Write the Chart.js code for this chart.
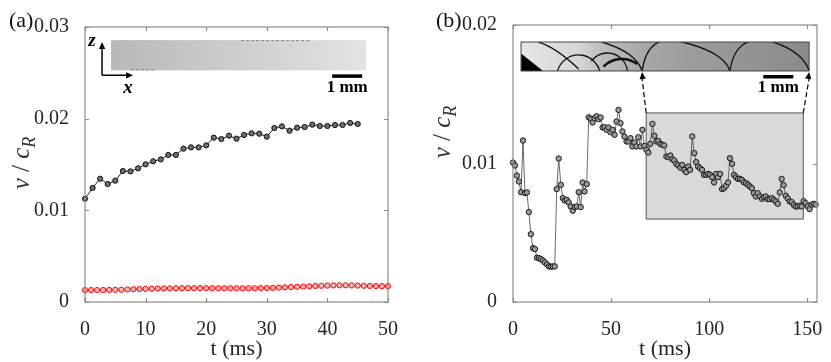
<!DOCTYPE html>
<html lang="en">
<head>
<meta charset="UTF-8">
<title>Crack front velocity</title>
<script src="https://cdn.jsdelivr.net/npm/chart.js"></script>
<style>
  body { margin: 0; background: #fff; font-family: 'Liberation Serif', 'DejaVu Serif', serif; }
  #wrap { position: relative; width: 831px; height: 362px; }
  canvas { position: absolute; top: 0; }
  .warm { position: absolute; left: -999px; top: 0; font-size: 20px; }
</style>
</head>
<body>
<span class="warm">0.01 t (ms) <b>1 mm</b> <i>v c R</i> <b><i>x z</i></b></span>
<div id="wrap">
  <canvas id="chartA" width="420" height="362" style="left:0"></canvas>
  <canvas id="chartB" width="411" height="362" style="left:420px"></canvas>
</div>
<script>
// panel (a): black = fast series, red = slow series
const tA_black = [0,1.25,2.5,3.75,5,6.25,7.5,8.75,10,11.25,12.5,13.75,15,16.25,17.5,18.75,20,21.25,22.5,23.75,25,26.25,27.5,28.75,30,31.25,32.5,33.75,35,36.25,37.5,38.75,40,41.25,42.5,43.75,45];
const vA_black = [0.01127,0.01244,0.01345,0.01287,0.01324,0.01429,0.01425,0.01458,0.01502,0.01535,0.01556,0.01604,0.01604,0.01673,0.01687,0.01687,0.01709,0.01793,0.01778,0.01815,0.01782,0.01822,0.0184,0.01836,0.01804,0.01898,0.01916,0.01869,0.01902,0.01909,0.01935,0.0192,0.0192,0.01931,0.01931,0.01953,0.01942];
const tA_red = [0,1,2,3,4,5,6,7,8,9,10,11,12,13,14,15,16,17,18,19,20,21,22,23,24,25,26,27,28,29,30,31,32,33,34,35,36,37,38,39,40,41,42,43,44,45,46,47,48,49,50];
const vA_red = [0.00130,0.00130,0.00130,0.00131,0.00132,0.00133,0.00134,0.00137,0.00139,0.00141,0.00143,0.00145,0.00147,0.00148,0.00149,0.00150,0.00151,0.00151,0.00151,0.00151,0.00151,0.00151,0.00150,0.00150,0.00150,0.00150,0.00150,0.00150,0.00150,0.00151,0.00152,0.00154,0.00157,0.00160,0.00163,0.00166,0.00169,0.00172,0.00175,0.00177,0.00179,0.00181,0.00182,0.00182,0.00181,0.00179,0.00177,0.00175,0.00174,0.00173,0.00173];

// panel (b)
const tB = [0,1.0,2.0,3.0,4.1,5.1,6.1,7.1,8.1,9.1,10.2,11.2,12.2,13.2,14.2,15.2,16.2,17.3,18.3,19.3,20.3,21.3,22.3,23.3,24.4,25.4,26.4,27.4,28.4,29.4,30.5,31.5,32.5,33.5,34.5,35.5,36.5,37.6,38.6,39.6,40.6,41.6,42.6,43.6,44.7,45.7,46.7,47.7,48.7,49.7,50.8,51.8,52.8,53.8,54.8,55.8,56.8,57.9,58.9,59.9,60.9,61.9,62.9,63.9,65.0,66.0,67.0,68.0,69.0,70.0,71.1,72.1,73.1,74.1,75.1,76.1,77.1,78.2,79.2,80.2,81.2,82.2,83.2,84.2,85.3,86.3,87.3,88.3,89.3,90.3,91.4,92.4,93.4,94.4,95.4,96.4,97.4,98.5,99.5,100.5,101.5,102.5,103.5,104.5,105.6,106.6,107.6,108.6,109.6,110.6,111.7,112.7,113.7,114.7,115.7,116.7,117.7,118.8,119.8,120.8,121.8,122.8,123.8,124.8,125.9,126.9,127.9,128.9,129.9,130.9,132.0,133.0,134.0,135.0,136.0,137.0,138.0,139.1,140.1,141.1,142.1,143.1,144.1,145.1,146.2,147.2,148.2,149.2,150.2,151.2,152.3,153.3,154.3];
const vB = [0.01007,0.00986,0.00913,0.00870,0.00793,0.01166,0.00786,0.00791,0.00649,0.00490,0.00389,0.00382,0.00320,0.00317,0.00310,0.00300,0.00286,0.00272,0.00257,0.00255,0.00257,0.00257,0.00815,0.01036,0.00846,0.00750,0.00733,0.00738,0.00719,0.00690,0.00659,0.00685,0.00690,0.00793,0.00685,0.00863,0.00798,0.00851,0.01334,0.01322,0.01296,0.01327,0.01341,0.01320,0.01332,0.01260,0.01262,0.01243,0.01260,0.01226,0.01243,0.01207,0.01303,0.01387,0.01291,0.01231,0.01195,0.01159,0.01159,0.01183,0.01123,0.01151,0.01123,0.01190,0.01123,0.01243,0.01127,0.01099,0.01079,0.01142,0.01286,0.01200,0.01159,0.01163,0.01142,0.01135,0.01130,0.01050,0.01046,0.01058,0.01031,0.01022,0.00998,0.00986,0.00971,0.00990,0.00954,0.00938,0.00978,0.00954,0.01195,0.01075,0.01010,0.00978,0.00966,0.00954,0.00918,0.00918,0.00925,0.00918,0.00901,0.00863,0.00925,0.00901,0.00925,0.00815,0.00822,0.00839,0.00863,0.01038,0.00998,0.00918,0.00901,0.00889,0.00889,0.00882,0.00865,0.00858,0.00846,0.00834,0.00822,0.00786,0.00762,0.00786,0.00762,0.00745,0.00757,0.00762,0.00743,0.00743,0.00750,0.00738,0.00726,0.00709,0.00791,0.00889,0.00844,0.00767,0.00748,0.00726,0.00721,0.00702,0.00690,0.00690,0.00695,0.00690,0.00728,0.00714,0.00690,0.00671,0.00702,0.00709,0.00704];

const xTicksA = [0, 10, 20, 30, 40, 50];
const yTicksA = [0, 0.01, 0.02, 0.03];
const xTicksB = [0, 50, 100, 150];
const yTicksB = [0, 0.01, 0.02];

const SERIF = '"Liberation Serif", "DejaVu Serif", serif';
const TXT = '#262626';
const AXIS = '#8c8c8c';

function pts(ts, vs) {
  const out = [];
  for (let i = 0; i < Math.min(ts.length, vs.length); i++) out.push({ x: ts[i], y: vs[i] });
  return out;
}

function fmtY(v) { return v === 0 ? '0' : v.toFixed(2); }

function makeScales(xmin, xmax, xt, ymax, yt, yWidth) {
  return {
    x: {
      type: 'linear', min: xmin, max: xmax,
      afterBuildTicks: s => { s.ticks = xt.map(v => ({ value: v })); },
      afterFit: s => { s.height = 60; },
      grid: { display: false }, border: { display: false },
      ticks: { color: TXT, font: { family: SERIF, size: 20 }, padding: 8, maxRotation: 0 },
      title: { display: true, text: 't (ms)', color: TXT, font: { family: SERIF, size: 22 }, padding: 0 }
    },
    y: {
      type: 'linear', min: 0, max: ymax,
      afterBuildTicks: s => { s.ticks = yt.map(v => ({ value: v })); },
      afterFit: s => { s.width = yWidth; },
      grid: { display: false }, border: { display: false },
      ticks: { color: TXT, font: { family: SERIF, size: 20 }, padding: 8, callback: fmtY }
    }
  };
}

// MATLAB-like box with inward ticks, panel letter and y label
function frame(letter, letterPos, ylabPos) {
  return {
    id: 'frame',
    afterDraw(chart) {
      const { ctx, chartArea: a, scales: { x, y } } = chart;
      ctx.save();
      ctx.strokeStyle = AXIS;
      ctx.lineWidth = 1.2;
      ctx.strokeRect(a.left, a.top, a.right - a.left, a.bottom - a.top);
      ctx.beginPath();
      x.ticks.forEach(t => {
        const px = Math.round(x.getPixelForValue(t.value)) + 0.5;
        ctx.moveTo(px, a.bottom); ctx.lineTo(px, a.bottom - 4);
        ctx.moveTo(px, a.top); ctx.lineTo(px, a.top + 4);
      });
      y.ticks.forEach(t => {
        const py = Math.round(y.getPixelForValue(t.value)) + 0.5;
        ctx.moveTo(a.left, py); ctx.lineTo(a.left + 4, py);
        ctx.moveTo(a.right, py); ctx.lineTo(a.right - 4, py);
      });
      ctx.stroke();

      ctx.fillStyle = '#111';
      ctx.font = '22px ' + SERIF;
      ctx.textBaseline = 'middle';
      ctx.textAlign = 'left';
      ctx.fillText(letter, letterPos[0], letterPos[1]);

      // y label: v / c_R, rotated
      ctx.translate(ylabPos[0], ylabPos[1]);
      ctx.rotate(-Math.PI / 2);
      ctx.fillStyle = '#333';
      const parts = [
        { s: 'v', f: 'italic 25px ' + SERIF, dy: 0 },
        { s: ' / ', f: '25px ' + SERIF, dy: 0 },
        { s: 'c', f: 'italic 25px ' + SERIF, dy: 0 },
        { s: 'R', f: 'italic 18px ' + SERIF, dy: 6 }
      ];
      let w = 0;
      parts.forEach(p => { ctx.font = p.f; w += ctx.measureText(p.s).width; });
      let cx = -w / 2;
      ctx.textBaseline = 'alphabetic';
      parts.forEach(p => {
        ctx.font = p.f;
        ctx.fillText(p.s, cx, 7 + p.dy);
        cx += ctx.measureText(p.s).width;
      });
      ctx.restore();
    }
  };
}

function arrowHead(ctx, x, y, dx, dy, size) {
  const len = Math.hypot(dx, dy);
  const ux = dx / len, uy = dy / len;
  ctx.beginPath();
  ctx.moveTo(x, y);
  ctx.lineTo(x - ux * size - uy * size * 0.45, y - uy * size + ux * size * 0.45);
  ctx.lineTo(x - ux * size + uy * size * 0.45, y - uy * size - ux * size * 0.45);
  ctx.closePath();
  ctx.fill();
}

function scaleBar(ctx, xr, yb) {
  ctx.fillStyle = '#000';
  ctx.fillRect(xr - 30, yb + 4, 30, 3.5);
  ctx.font = 'bold 17px ' + SERIF;
  ctx.textAlign = 'center';
  ctx.textBaseline = 'middle';
  ctx.fillText('1 mm', xr - 15, yb + 17);
}

// inset photo boxes, given in data units
const insetA = { t0: 4.3, t1: 46.4, v0: 0.02527, v1: 0.02857 };
const insetB = { t0: 4.1, t1: 151, v0: 0.01668, v1: 0.01877 };
const zoomBoxB = { t0: 67.9, t1: 148, v0: 0.00599, v1: 0.01365 };

const insetPluginA = {
  id: 'insetA',
  afterDraw(chart) {
    const { ctx, scales: { x, y } } = chart;
    const l = x.getPixelForValue(insetA.t0), r = x.getPixelForValue(insetA.t1);
    const t = y.getPixelForValue(insetA.v1), b = y.getPixelForValue(insetA.v0);
    ctx.save();
    const g = ctx.createLinearGradient(l, 0, r, 0);
    g.addColorStop(0, '#b8b8b8');
    g.addColorStop(1, '#e3e3e3');
    ctx.fillStyle = g;
    ctx.fillRect(l, t, r - l, b - t);
    // faint edge specks
    ctx.strokeStyle = 'rgba(40,40,40,0.45)';
    ctx.lineWidth = 1;
    ctx.setLineDash([3, 2]);
    ctx.beginPath();
    ctx.moveTo(l + 20, b - 0.5); ctx.lineTo(l + 45, b - 0.5);
    ctx.moveTo(l + 130, t + 0.5); ctx.lineTo(l + 200, t + 0.5);
    ctx.stroke();
    ctx.setLineDash([]);
    // axes arrows
    const ox = l - 9, oy = b + 5;
    ctx.strokeStyle = '#000';
    ctx.fillStyle = '#000';
    ctx.lineWidth = 1.5;
    ctx.beginPath();
    ctx.moveTo(ox, oy); ctx.lineTo(ox, t + 6);
    ctx.moveTo(ox, oy); ctx.lineTo(ox + 26, oy);
    ctx.stroke();
    arrowHead(ctx, ox, t + 2, 0, -1, 7);
    arrowHead(ctx, ox + 31, oy, 1, 0, 7);
    ctx.font = 'italic bold 19px ' + SERIF;
    ctx.textAlign = 'center';
    ctx.textBaseline = 'middle';
    ctx.fillText('z', ox - 10, t + 1);
    ctx.fillText('x', ox + 26, oy + 13);
    scaleBar(ctx, r - 4, b);
    ctx.restore();
  }
};

const insetPluginB = {
  id: 'insetB',
  beforeDatasetsDraw(chart) {
    const { ctx, scales: { x, y } } = chart;
    const l = x.getPixelForValue(zoomBoxB.t0), r = x.getPixelForValue(zoomBoxB.t1);
    const t = y.getPixelForValue(zoomBoxB.v1), b = y.getPixelForValue(zoomBoxB.v0);
    ctx.save();
    ctx.fillStyle = '#d9d9d9';
    ctx.fillRect(l, t, r - l, b - t);
    ctx.strokeStyle = '#555';
    ctx.lineWidth = 1;
    ctx.strokeRect(l, t, r - l, b - t);
    ctx.restore();
  },
  afterDraw(chart) {
    const { ctx, scales: { x, y } } = chart;
    const l = x.getPixelForValue(insetB.t0), r = x.getPixelForValue(insetB.t1);
    const t = y.getPixelForValue(insetB.v1), b = y.getPixelForValue(insetB.v0);
    const W = r - l, H = b - t;
    const px = f => l + f * W;
    ctx.save();
    ctx.beginPath();
    ctx.rect(l, t, W, H);
    ctx.clip();
    const g = ctx.createLinearGradient(l, 0, r, 0);
    g.addColorStop(0, '#e6e6e6');
    g.addColorStop(0.2, '#d6d6d6');
    g.addColorStop(0.28, '#bdbdbd');
    g.addColorStop(0.42, '#a8a8a8');
    g.addColorStop(0.6, '#9c9c9c');
    g.addColorStop(1, '#8a8a8a');
    ctx.fillStyle = g;
    ctx.fillRect(l, t, W, H);
    // scalloped fronts
    ctx.strokeStyle = '#111';
    ctx.lineWidth = 1.3;
    const cusps = [[0.28, t], [0.42, b], [0.56, t], [0.725, b], [0.876, t], [1.0, b]];
    ctx.beginPath();
    for (let i = 0; i < cusps.length - 1; i++) {
      const [f0, y0] = cusps[i], [f1, y1] = cusps[i + 1];
      const down = y1 > y0;
      ctx.moveTo(px(f0), y0);
      ctx.quadraticCurveTo(down ? px(f1) - 0.02 * W : px(f0) + 0.02 * W, down ? y0 + 0.35 * H : y1 - 0.35 * H, px(f1), y1);
    }
    ctx.stroke();
    // chaotic region on the left
    ctx.beginPath();
    ctx.arc(px(0.2), b + 6, 22, Math.PI * 1.05, Math.PI * 1.95);
    ctx.moveTo(px(0.36), b);
    ctx.arc(px(0.3), b + 2, 20, 0, -Math.PI * 0.8, true);
    ctx.moveTo(px(0.06), t);
    ctx.quadraticCurveTo(px(0.12), t + 5, px(0.2), b - 2);
    ctx.stroke();
    ctx.lineWidth = 2.5;
    ctx.beginPath();
    ctx.arc(px(0.35), b + 14, 26, Math.PI * 1.25, Math.PI * 1.7);
    ctx.stroke();
    ctx.fillStyle = '#000';
    ctx.beginPath();
    ctx.moveTo(l, t + 0.4 * H);
    ctx.lineTo(l + 22, b);
    ctx.lineTo(l, b);
    ctx.closePath();
    ctx.fill();
    ctx.restore();

    ctx.save();
    ctx.strokeStyle = '#444';
    ctx.lineWidth = 1;
    ctx.strokeRect(l, t, W, H);
    // dashed links from zoom box to inset
    const zl = x.getPixelForValue(zoomBoxB.t0), zr = x.getPixelForValue(zoomBoxB.t1);
    const zt = y.getPixelForValue(zoomBoxB.v1);
    const ends = [[zl, px(0.42)], [zr, r]];
    ctx.strokeStyle = '#000';
    ctx.fillStyle = '#000';
    ctx.lineWidth = 1.2;
    ends.forEach(([x0, x1]) => {
      ctx.setLineDash([5, 3]);
      ctx.beginPath();
      ctx.moveTo(x0, zt);
      ctx.lineTo(x1, b + 7);
      ctx.stroke();
      ctx.setLineDash([]);
      arrowHead(ctx, x1, b + 1, x1 - x0, b - zt, 7);
    });
    scaleBar(ctx, px(0.945), b);
    ctx.restore();
  }
};

function build() {
  new Chart(document.getElementById('chartA'), {
    type: 'line',
    data: {
      datasets: [
        {
          data: pts(tA_black, vA_black),
          borderColor: '#222', borderWidth: 1,
          pointRadius: 2.6, pointBackgroundColor: '#6e6e6e', pointBorderColor: '#111', pointBorderWidth: 1,
          tension: 0, clip: false
        },
        {
          data: pts(tA_red, vA_red),
          borderColor: '#ff0000', borderWidth: 1,
          pointRadius: 2.6, pointBackgroundColor: '#ffb3b3', pointBorderColor: '#ff0000', pointBorderWidth: 1,
          tension: 0, clip: false
        }
      ]
    },
    options: {
      responsive: false, animation: false, devicePixelRatio: 1,
      layout: { padding: { left: 0, top: 27, right: 32, bottom: 0 } },
      plugins: { legend: { display: false }, tooltip: { enabled: false } },
      scales: makeScales(0, 50, xTicksA, 0.03, yTicksA, 85)
    },
    plugins: [insetPluginA, frame('(a)', [9, 21], [22, 163])]
  });

  new Chart(document.getElementById('chartB'), {
    type: 'line',
    data: {
      datasets: [
        {
          data: pts(tB, vB),
          borderColor: '#444', borderWidth: 0.8,
          pointRadius: 2.7, pointBackgroundColor: '#9a9a9a', pointBorderColor: '#1a1a1a', pointBorderWidth: 1,
          tension: 0, clip: false
        }
      ]
    },
    options: {
      responsive: false, animation: false, devicePixelRatio: 1,
      layout: { padding: { left: 0, top: 25, right: 14, bottom: 0 } },
      plugins: { legend: { display: false }, tooltip: { enabled: false } },
      scales: makeScales(0, 155, xTicksB, 0.02, yTicksB, 93)
    },
    plugins: [insetPluginB, frame('(b)', [16, 21], [23, 132])]
  });
}

Promise.all([
  document.fonts.load('20px "Liberation Serif"'),
  document.fonts.load('italic 20px "Liberation Serif"'),
  document.fonts.load('bold 20px "Liberation Serif"')
]).catch(() => {}).then(build);
</script>
</body>
</html>
